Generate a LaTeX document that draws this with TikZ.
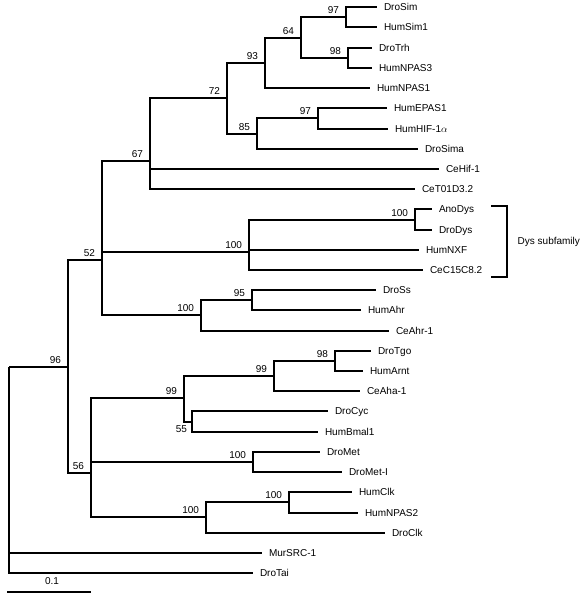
\documentclass[tikz,border=0pt]{standalone}
\usepackage{fontspec}
\setmainfont{Liberation Sans}
\usepackage{tikz}

\begin{document}
\begin{tikzpicture}[x=1pt, y=-1pt, line width=2pt,
    every node/.style={font=\fontsize{10}{12}\selectfont},
    leaf/.style={anchor=west, inner xsep=6pt, inner ysep=0pt, text height=7pt, text depth=0pt},
    boot/.style={anchor=south east, inner sep=1pt, xshift=-5pt, yshift=1.5pt},
    bootb/.style={anchor=north east, inner sep=1pt, xshift=-3pt, yshift=-2pt}]
    \useasboundingbox (0,0) rectangle (581,598);

    \coordinate (root) at (9,367);
    \coordinate (n96) at (68,367);
    \coordinate (n52) at (102,260);
    \coordinate (n67) at (150,161);
    \coordinate (n72) at (227,98);
    \coordinate (n93) at (265,63);
    \coordinate (n64) at (301,38);
    \coordinate (n97a) at (346,17);
    \coordinate (n98a) at (348,58);
    \coordinate (n85) at (257,134);
    \coordinate (n97b) at (318,118);
    \coordinate (ndys) at (249,252);
    \coordinate (nano) at (415,220);
    \coordinate (nahr) at (201,315);
    \coordinate (n95) at (252,300);
    \coordinate (n56) at (91,473);
    \coordinate (n99a) at (184,398);
    \coordinate (n99b) at (274,376);
    \coordinate (n98b) at (335,361);
    \coordinate (n55) at (192,422);
    \coordinate (nmet) at (253,462);
    \coordinate (nclk) at (206,517);
    \coordinate (nclk2) at (289,502);

    \node[leaf] (DroSim) at (377,7) {DroSim};
    \node[leaf] (HumSim) at (377,27) {HumSim1};
    \node[leaf] (DroTrh) at (372,48) {DroTrh};
    \node[leaf] (HumNPASc) at (372,68) {HumNPAS3};
    \node[leaf] (HumNPASa) at (370,88) {HumNPAS1};
    \node[leaf] (HumEPAS) at (387,108) {HumEPAS1};
    \node[leaf] (HumHIF) at (388,129) {HumHIF-1$\alpha$};
    \node[leaf] (DroSima) at (418,149) {DroSima};
    \node[leaf] (CeHif) at (439,169) {CeHif-1};
    \node[leaf] (CeT) at (415,189) {CeT01D3.2};
    \node[leaf] (AnoDys) at (432,209) {AnoDys};
    \node[leaf] (DroDys) at (432,230) {DroDys};
    \node[leaf] (HumNXF) at (419,250) {HumNXF};
    \node[leaf] (CeC) at (423,270) {CeC15C8.2};
    \node[leaf] (DroSs) at (376,290) {DroSs};
    \node[leaf] (HumAhr) at (361,310) {HumAhr};
    \node[leaf] (CeAhr) at (389,331) {CeAhr-1};
    \node[leaf] (DroTgo) at (371,351) {DroTgo};
    \node[leaf] (HumArnt) at (363,371) {HumArnt};
    \node[leaf] (CeAha) at (360,391) {CeAha-1};
    \node[leaf] (DroCyc) at (328,411) {DroCyc};
    \node[leaf] (HumBmal) at (318,432) {HumBmal1};
    \node[leaf] (DroMet) at (320,452) {DroMet};
    \node[leaf] (DroMetI) at (342,472) {DroMet-I};
    \node[leaf] (HumClk) at (352,492) {HumClk};
    \node[leaf] (HumNPASb) at (358,513) {HumNPAS2};
    \node[leaf] (DroClk) at (385,533) {DroClk};
    \node[leaf] (MurSRC) at (262,553) {MurSRC-1};
    \node[leaf] (DroTai) at (253,573) {DroTai};

    \draw (root) -- (n96) node[boot] {96};
    \draw (root) |- (MurSRC.west);
    \draw (root) |- (DroTai.west);

    \draw (n96) |- (n52) node[boot] {52};
    \draw (n96) |- (n56) node[boot] {56};

    \draw (n52) |- (n67) node[boot] {67};
    \draw (n52) |- (ndys) node[boot] {100};
    \draw (n52) |- (nahr) node[boot] {100};

    \draw (n67) |- (n72) node[boot] {72};
    \draw (n67) |- (CeHif.west);
    \draw (n67) |- (CeT.west);
    \draw (n72) |- (n93) node[boot] {93};
    \draw (n72) |- (n85) node[boot] {85};
    \draw (n93) |- (n64) node[boot] {64};
    \draw (n93) |- (HumNPASa.west);
    \draw (n64) |- (n97a) node[boot] {97};
    \draw (n64) |- (n98a) node[boot] {98};
    \draw (n97a) |- (DroSim.west);
    \draw (n97a) |- (HumSim.west);
    \draw (n98a) |- (DroTrh.west);
    \draw (n98a) |- (HumNPASc.west);
    \draw (n85) |- (n97b) node[boot] {97};
    \draw (n85) |- (DroSima.west);
    \draw (n97b) |- (HumEPAS.west);
    \draw (n97b) |- (HumHIF.west);

    \draw (ndys) |- (nano) node[boot] {100};
    \draw (ndys) |- (HumNXF.west);
    \draw (ndys) |- (CeC.west);
    \draw (nano) |- (AnoDys.west);
    \draw (nano) |- (DroDys.west);

    \draw (nahr) |- (n95) node[boot] {95};
    \draw (nahr) |- (CeAhr.west);
    \draw (n95) |- (DroSs.west);
    \draw (n95) |- (HumAhr.west);

    \draw (n56) |- (n99a) node[boot] {99};
    \draw (n56) |- (nmet) node[boot] {100};
    \draw (n56) |- (nclk) node[boot] {100};
    \draw (n99a) |- (n99b) node[boot] {99};
    \draw (n99a) |- (n55) node[bootb] {55};
    \draw (n99b) |- (n98b) node[boot] {98};
    \draw (n99b) |- (CeAha.west);
    \draw (n98b) |- (DroTgo.west);
    \draw (n98b) |- (HumArnt.west);
    \draw (n55) |- (DroCyc.west);
    \draw (n55) |- (HumBmal.west);
    \draw (nmet) |- (DroMet.west);
    \draw (nmet) |- (DroMetI.west);
    \draw (nclk) |- (nclk2) node[boot] {100};
    \draw (nclk) |- (DroClk.west);
    \draw (nclk2) |- (HumClk.west);
    \draw (nclk2) |- (HumNPASb.west);

    \coordinate (brtop) at (491,206);
    \coordinate (brbot) at (491,277);
    \draw (brtop) -- ++(16,0) |- (brbot);
    \node[anchor=west, inner sep=0pt] (dys) at (516.7,242.3) {Dys subfamily};

    \coordinate (sbar0) at (7,592);
    \coordinate (sbar1) at (91,592);
    \draw (sbar0) -- (sbar1);
    \node (sbar) at (52,580.7) {0.1};
\end{tikzpicture}
\end{document}
